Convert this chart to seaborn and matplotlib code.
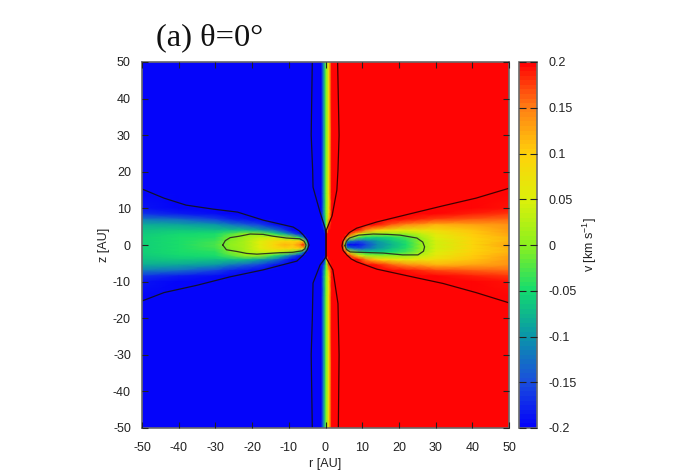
"""Velocity map v(r, z) with contour lines, drawn as a seaborn heatmap."""

import matplotlib

matplotlib.use("Agg")
import matplotlib.pyplot as plt
import numpy as np
import seaborn as sns
from matplotlib.colors import LinearSegmentedColormap

# grid nodes (not evenly spaced, the centre strip is thin)
r_nodes = [-50, -40, -30, -26, -22, -18, -14, -11, -9, -7, -6, -5.2, -4.6, -3,
           -1.2, -0.6, 0, 0.3, 0.9, 1.7,
           3, 4.6, 5.2, 6, 7, 9, 11, 14, 18, 22, 26, 30, 40, 50]
z_nodes_top = [50, 14, 10, 8.5, 7, 5.5, 4, 3, 2, 1, 0]

# v [km/s] along each z row, the map is mirrored about z = 0
v_z50 = [-.2] * 14 + [-.2, -.12, -.03, 0, .08, .2] + [.2] * 14
v_z14 = [-.2] * 14 + [-.2, -.12, -.03, 0, .08, .2] + [.2] * 14
v_z10 = [-.19] + [-.2] * 13 + [-.2, -.12, -.03, 0, .08, .2] + [.2] * 13 + [.19]
v_z85 = [-.17, -.185, -.195] + [-.2] * 11 + [-.2, -.12, -.03, 0, .09, .2] + [.2] * 11 + [.195, .185, .175]
v_z7 = [-.12, -.13, -.16, -.18, -.19] + [-.2] * 9 + [-.2, -.13, -.04, 0, .12, .2] + [.2] * 9 + [.19, .18, .17, .16, .155]
v_z55 = [-.085, -.09, -.1, -.12, -.14, -.16, -.19] + [-.2] * 7 + [-.2, -.17, -.06, 0, .17, .2] + [.2] * 7 + [.19, .16, .14, .13, .12, .125, .135]
v_z4 = [-.07, -.065, -.07, -.07, -.07, -.09, -.12, -.17] + [-.2] * 6 + [-.2, -.2, -.12, .05, .2, .2] + [.2] * 5 + [.19, .15, .1, .07, .06, .07, .08, .11, .13]
v_z3 = [-.065, -.055, -.05, -.03, 0, 0, -.04, -.09, -.14, -.19] + [-.2] * 4 + [-.2, -.2, -.2, .2, .2, .2] + [.2] * 4 + [.16, .07, .02, 0, 0, .005, .03, .06, .1, .125]
v_z2 = [-.06, -.05, -.04, -.01, .01, .03, .04, .01, -.01, -.04, -.12, -.2, -.2, -.2] + [-.2, -.2, -.2, .2, .2, .2] + [.2, .2, .2, .12, .03, -.03, -.05, -.06, -.05, -.03, .01, .05, .095, .12]
v_z1 = [-.06, -.05, -.035, -.005, .02, .05, .08, .09, .09, .1, .07, -.05, -.2, -.2] + [-.2, -.2, -.2, .2, .2, .2] + [.2, .2, .12, -.09, -.12, -.15, -.13, -.1, -.07, -.04, 0, .045, .09, .12]
v_z0 = [-.06, -.05, -.03, 0, .02, .05, .09, .115, .11, .14, .19, .02, -.2, -.2] + [-.2, -.2, -.2, .2, .2, .2] + [.2, .2, -.02, -.2, -.2, -.19, -.16, -.11, -.08, -.05, 0, .04, .09, .125]

# contour lines
outer_left_r = [-50, -44, -38, -30.6, -24, -17, -8.8, -7.2, -6, -5, -4.5, -5, -6, -7.8, -17, -26, -35, -44, -50]
outer_left_z = [15.3, 12.8, 10.9, 9.8, 9, 6.8, 4.9, 3.9, 2.7, 1.4, 0, -1.4, -2.7, -4.4, -6.8, -8.7, -11, -13, -15.3]
outer_right_r = [50, 41, 32, 25, 14, 8.5, 6.5, 5.3, 4.7, 4.5, 4.8, 5.8, 7, 8.5, 14, 25, 32, 41, 50]
outer_right_z = [15.5, 12.8, 10.7, 9, 6.3, 4.6, 3.4, 2, 0.9, -0.2, -1.5, -2.7, -3.8, -4.6, -6.6, -9, -10.5, -13, -15.8]
inner_left_r = [-28, -27.3, -26, -23.5, -20.5, -17, -14.3, -10.6, -7, -5.8, -5.3, -5.6, -6.4, -9, -12.4, -18.7, -21.5, -24, -27, -28]
inner_left_z = [0, 1.2, 2, 2.4, 3, 2.9, 2.4, 1.9, 1.7, 1, 0, -1, -1.6, -2, -2.1, -2.5, -2.3, -1.8, -1.3, 0]
inner_right_r = [5.3, 5.7, 6.5, 9, 13, 17, 20.3, 24.9, 26.5, 27, 26.7, 25.2, 21, 15.7, 9.4, 6.7, 5.7, 5.3]
inner_right_z = [-0.2, 1, 1.9, 2.7, 3, 2.9, 2.7, 1.9, 0.8, -0.5, -1.7, -2.7, -2.7, -2.2, -2, -1.9, -1.2, -0.2]
strip_left_r = [-3.6, -3.9, -3.5, -3.4, -1.5, -0.1, 0.1, 0.1, -0.1, -1.5, -3.4, -3.6, -3.9, -3.6]
strip_left_z = [50, 30, 20.5, 15.8, 9, 4.6, 3, -3, -3.6, -5.5, -10.4, -20.5, -30, -50]
strip_right_r = [3.3, 3.7, 3.4, 3.1, 1.8, 0.2, 0.2, 2, 3.4, 3.7, 3.5]
strip_right_z = [50, 30, 20.5, 15, 8, 4, -3.6, -6.8, -16, -30, -50]

tick_values = [-50, -40, -30, -20, -10, 0, 10, 20, 30, 40, 50]
cbar_ticks = [-0.2, -0.15, -0.1, -0.05, 0, 0.05, 0.1, 0.15, 0.2]
cbar_labels = ["-0.2", "-0.15", "-0.1", "-0.05", "0", "0.05", "0.1", "0.15", "0.2"]
palette = ["#0404fa", "#1a50dc", "#0a96a8", "#14dc6e", "#8cf01e", "#dcf00a", "#ffd20a", "#ff8214", "#ff0404"]

FRAME = "#6a6a6a"


def main() -> None:
    sns.set_style("ticks")
    plt.rcParams["font.family"] = ["Liberation Sans", "DejaVu Sans"]
    plt.rcParams["mathtext.default"] = "regular"
    plt.rcParams["axes.axisbelow"] = False

    top = np.array([v_z50, v_z14, v_z10, v_z85, v_z7, v_z55, v_z4, v_z3, v_z2, v_z1, v_z0])
    values = np.vstack([top, top[-2::-1]])
    z_down = -np.array(z_nodes_top + [-z for z in z_nodes_top[-2::-1]], dtype=float)
    col_idx = np.arange(len(r_nodes))
    row_idx = np.arange(len(z_down))

    cmap = LinearSegmentedColormap.from_list("v_map", palette, N=80)
    fig = plt.figure(figsize=(6.73, 4.71), dpi=100)
    rect = [142 / 673, 43 / 471, 367 / 673, 366 / 471]
    ax = fig.add_axes(rect)
    cax = fig.add_axes([518.5 / 673, 43 / 471, 18.5 / 673, 366 / 471])

    sns.heatmap(
        values,
        cmap=cmap,
        vmin=-0.2,
        vmax=0.2,
        xticklabels=False,
        yticklabels=False,
        shading="gouraud",
        cbar_ax=cax,
        cbar_kws={"ticks": cbar_ticks},
        ax=ax,
    )
    # heatmap works in cell indices, the function scales put them at r and z
    ax.set_xscale(
        "function",
        functions=(lambda i: np.interp(i, col_idx, r_nodes), lambda x: np.interp(x, r_nodes, col_idx)),
    )
    ax.set_yscale(
        "function",
        functions=(lambda i: np.interp(i, row_idx, z_down), lambda y: np.interp(y, z_down, row_idx)),
    )
    ax.set_xlim(0, len(r_nodes) - 1)
    ax.set_ylim(len(z_down) - 1, 0)
    ax.axis("off")

    cb = ax.collections[0].colorbar
    cb.outline.set_linewidth(1.2)
    cb.outline.set_edgecolor(FRAME)
    cb.set_ticklabels(cbar_labels)
    cax.tick_params(axis="y", which="major", direction="in", left=True, right=True,
                    labelleft=False, labelright=True, length=5, width=0.8, pad=8,
                    labelsize=9, color="#222222", labelcolor="#222222")
    cax.minorticks_off()
    fig.text(590 / 673, 1 - 245 / 471, "v [km s$^{-1}$]", rotation=90, fontsize=9,
             ha="center", va="center", color="#222222")

    # overlay in real r, z for the contour lines and the axes
    line_ax = fig.add_axes(rect, facecolor="none")
    contours = [
        (outer_left_r, outer_left_z, "#101030"),
        (outer_right_r, outer_right_z, "#400000"),
        (inner_left_r, inner_left_z, "#303a20"),
        (inner_right_r, inner_right_z, "#303a20"),
        (strip_left_r, strip_left_z, "#101030"),
        (strip_right_r, strip_right_z, "#400000"),
    ]
    for xs, zs, color in contours:
        sns.lineplot(x=xs, y=zs, sort=False, estimator=None, color=color, linewidth=0.9, ax=line_ax)
    line_ax.set_xlim(-50, 50)
    line_ax.set_ylim(-50, 50)
    line_ax.set_xticks(tick_values, [str(t) for t in tick_values])
    line_ax.set_yticks(tick_values, [str(t) for t in tick_values])
    line_ax.tick_params(direction="in", top=True, right=True, length=4.5, width=0.8,
                        labelsize=9, color="#222222", labelcolor="#222222")
    line_ax.tick_params(axis="x", pad=10)
    line_ax.tick_params(axis="y", pad=8)
    for spine in line_ax.spines.values():
        spine.set_visible(True)
        spine.set_linewidth(1.2)
        spine.set_edgecolor(FRAME)
    line_ax.set_xlabel("")
    line_ax.set_ylabel("")
    fig.text(325 / 673, 1 - 464 / 471, "r [AU]", fontsize=9, ha="center", va="center", color="#222222")
    fig.text(104 / 673, 1 - 245 / 471, "z [AU]", rotation=90, fontsize=9, ha="center", va="center", color="#222222")

    fig.text(156 / 673, 1 - 45 / 471, "(a) θ=0°", fontsize=23.4, family="Liberation Serif",
             ha="left", va="baseline", color="#111111")

    fig.savefig("out.png", dpi=100)
    plt.close(fig)


if __name__ == "__main__":
    main()
